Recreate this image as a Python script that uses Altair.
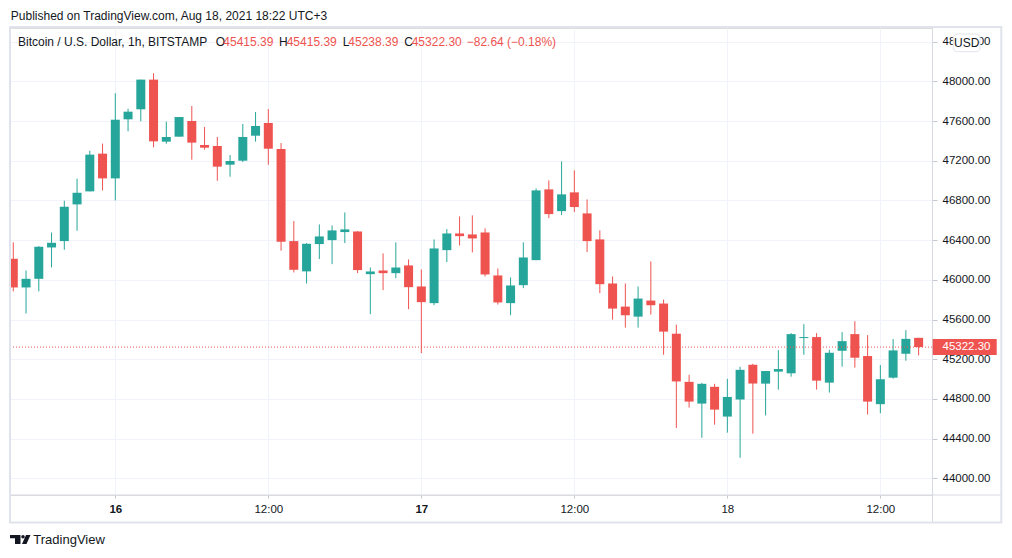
import altair as alt
import pandas as pd

# ---------------- data ----------------
START = "2021-08-15 16:00"   # first hourly candle (chart time, UTC+3)

opens = [46212, 45923, 46010, 46326, 46390, 46760, 46891, 47271, 47022, 47617,
         47718, 48017, 47392, 47442, 47600, 47358, 47348, 47160, 47200, 47452,
         47580, 47318, 46390, 46085, 46360, 46400, 46481, 46487, 46057, 46094,
         46067, 46145, 45933, 45765, 46299, 46467, 46457, 46477, 46044, 45765,
         45946, 46198, 46911, 46692, 46881, 46669, 46407, 45963, 45730, 45629,
         45791, 45761, 45457, 44972, 44753, 44922, 44622, 44794, 45144, 44954,
         45075, 45058, 45413, 45423, 44964, 45285, 45453, 45232, 44747, 45014,
         45255, 45415.39]
highs = [46377, 46094, 46340, 46477, 46797, 47019, 47301, 47372, 47879, 47724,
         48017, 48081, 47593, 47640, 47751, 47540, 47439, 47257, 47570, 47691,
         47721, 47378, 46592, 46370, 46558, 46548, 46679, 46490, 46124, 46266,
         46377, 46205, 46104, 46407, 46511, 46639, 46649, 46518, 46114, 46024,
         46377, 46921, 47002, 47193, 47103, 46810, 46498, 46034, 45963, 45933,
         46185, 45801, 45548, 45043, 44962, 44952, 45002, 45124, 45154, 45081,
         45292, 45463, 45553, 45463, 45295, 45473, 45583, 45443, 45141, 45403,
         45493, 45415.39]
lows = [45883, 45661, 45883, 46125, 46303, 46494, 46891, 46901, 46800, 47496,
        47597, 47335, 47371, 47442, 47210, 47311, 46998, 47039, 47187, 47392,
        47160, 46293, 46074, 45963, 46209, 46158, 46370, 46067, 45654, 45896,
        46017, 45704, 45261, 45745, 46178, 46346, 46276, 46034, 45751, 45644,
        45916, 46198, 46622, 46652, 46682, 46279, 45866, 45599, 45518, 45518,
        45650, 45245, 44507, 44713, 44409, 44541, 44460, 44207, 44450, 44633,
        44894, 45024, 45245, 44894, 44864, 45125, 45115, 44643, 44656, 45004,
        45185, 45238.39]
closes = [45923, 46010, 46333, 46373, 46736, 46877, 47261, 47022, 47613, 47694,
          48017, 47395, 47439, 47640, 47382, 47331, 47140, 47197, 47439, 47550,
          47321, 46383, 46101, 46363, 46437, 46498, 46508, 46098, 46084, 46067,
          46124, 45926, 45775, 46316, 46467, 46440, 46417, 46054, 45772, 45943,
          46225, 46901, 46662, 46861, 46733, 46390, 45956, 45710, 45643, 45811,
          45744, 45478, 44976, 44773, 44952, 44692, 44820, 45093, 44955, 45081,
          45101, 45453, 45423, 44984, 45265, 45382, 45215, 44773, 44998, 45289,
          45404.94, 45322.30]

price_ticks = list(range(44000, 48401, 400))
time_ticks = [(16, 0), (16, 12), (17, 0), (17, 12), (18, 0), (18, 12)]  # (day, hour)

published_text = "Published on TradingView.com, Aug 18, 2021 18:22 UTC+3"
symbol_text = "Bitcoin / U.S. Dollar, 1h, BITSTAMP"
brand_text = "TradingView"
currency_text = "USD"

# ---------------- styling ----------------
GREEN = "#26a69a"
RED = "#ef5350"
TEXT = "#131722"
GRID = "#f0f3fa"
FRAME = "#e0e3eb"
SEP = "#d6d9e0"
FONT = "Liberation Sans"

W, H = 922, 467

times = pd.date_range(START, periods=len(opens), freq="h")
df = pd.DataFrame({
    "t": times.strftime("%Y-%m-%dT%H:%M:%SZ"),
    "open": opens, "high": highs, "low": lows, "close": closes,
})

last = df.iloc[-1]
prev_close = df.iloc[-2]["close"]
chg = last["close"] - prev_close
pct = chg / prev_close * 100
chg_text = f"{chg:.2f} ({pct:.2f}%)".replace("-", "\u2212")

def dt(day, hour, minute=0, second=0):
    return alt.DateTime(year=2021, month=8, date=day, hours=hour,
                        minutes=minute, seconds=second, utc=True)

x_scale = alt.Scale(type="utc", domain=[dt(15, 15, 44, 30), dt(18, 16, 3)], padding=0)
y_scale = alt.Scale(domain=[43832, 48537], nice=False, zero=False, padding=0)

x_axis = alt.Axis(
    values=[dt(d, h) for d, h in time_ticks],
    labelExpr="utchours(datum.value) == 0 ? utcFormat(datum.value, '%-d') : utcFormat(datum.value, '%H:%M')",
    title=None, domain=False, grid=True, gridColor=GRID, gridWidth=1,
    tickColor="#c5c8d0", tickSize=3, labelPadding=5, labelFlush=False,
    labelFontSize=11.5, labelColor=TEXT, labelFont=FONT,
    labelFontWeight={"condition": {"test": "utchours(datum.value) == 0 && utcdate(datum.value) < 18",
                                   "value": "bold"}, "value": "normal"},
)
y_axis = alt.Axis(
    orient="right", values=price_ticks, format=".2f", title=None, domain=False,
    grid=True, gridColor=GRID, gridWidth=1, tickColor="#c5c8d0", tickSize=5,
    labelPadding=5, labelFontSize=11.5, labelColor=TEXT, labelFont=FONT,
)

X = alt.X("t:T", scale=x_scale, axis=x_axis)
up = "datum.close >= datum.open"
color = alt.condition(up, alt.value(GREEN), alt.value(RED))

base = alt.Chart(df)
wicks = base.mark_rule(strokeWidth=1, clip=True).encode(
    x=X,
    y=alt.Y("low:Q", scale=y_scale, axis=y_axis),
    y2="high:Q",
    color=color,
)
bodies = base.mark_bar(size=9, clip=True).encode(
    x=X,
    y=alt.Y("open:Q", scale=y_scale, axis=y_axis),
    y2="close:Q",
    color=color,
)

last_df = pd.DataFrame({"p": [last["close"]], "label": [f"{last['close']:.2f}"]})
price_line = alt.Chart(last_df).mark_rule(strokeDash=[1, 2], strokeWidth=1, color=RED).encode(
    y=alt.Y("p:Q", scale=y_scale, axis=y_axis),
)
price_box = alt.Chart(last_df).mark_point(
    shape="M-32,-8H32V8H-32Z", size=4, filled=True, color=RED, opacity=1, strokeWidth=0
).encode(
    x=alt.value(954.7),
    y=alt.Y("p:Q", scale=y_scale, axis=y_axis),
)
price_label = alt.Chart(last_df).mark_text(
    align="left", baseline="middle", font=FONT, fontSize=11.5, color="white"
).encode(
    x=alt.value(932.5),
    y=alt.Y("p:Q", scale=y_scale, axis=y_axis),
    text="label:N",
)

one = pd.DataFrame({"k": [0]})

def label(txt, x, y, color=TEXT, size=12, align="left", weight="normal"):
    return alt.Chart(one).mark_text(
        align=align, baseline="middle", font=FONT, fontSize=size,
        color=color, fontWeight=weight
    ).encode(x=alt.value(x), y=alt.value(y), text=alt.value(txt))

def rule(x, x2, y, y2, color, width=1):
    return alt.Chart(one).mark_rule(color=color, strokeWidth=width).encode(
        x=alt.value(x), x2=alt.value(x2), y=alt.value(y), y2=alt.value(y2))

frame = alt.Chart(one).mark_rect(
    fill=None, filled=False, stroke=FRAME, strokeWidth=2
).encode(x=alt.value(0), x2=alt.value(991.3), y=alt.value(-1.1), y2=alt.value(494.5))

sep_v = rule(922.5, 922.5, -1, 494.5, SEP)
sep_h = rule(0, 991.3, 467, 467, SEP)

usd_box = alt.Chart(one).mark_rect(
    fill="white", stroke=FRAME, strokeWidth=1, cornerRadius=4
).encode(x=alt.value(943.3), x2=alt.value(970), y=alt.value(6), y2=alt.value(23.7))

legend = [
    label(symbol_text, 8, 14),
    label("O", 205.7, 14),
    label(f"{last['open']:.2f}", 213.3, 14, color=RED),
    label("H", 269, 14),
    label(f"{last['high']:.2f}", 276.7, 14, color=RED),
    label("L", 332.7, 14),
    label(f"{last['low']:.2f}", 338.3, 14, color=RED),
    label("C", 394.3, 14),
    label(f"{last['close']:.2f}", 401.7, 14, color=RED),
    label(chg_text, 456.7, 14, color=RED),
]

logo = alt.Chart(one).mark_point(
    shape=("M-10,-4.5H0.5V4.5H-5V-1.2H-10Z "
           "M1.3,-2.8A1.7,1.7 0 1,1 4.7,-2.8A1.7,1.7 0 1,1 1.3,-2.8Z "
           "M6,-4.5H10.5L6.5,4.5H2Z"),
    size=4, filled=True, color=TEXT, opacity=1, strokeWidth=0,
).encode(x=alt.value(10), y=alt.value(511.5))

chart = alt.layer(
    wicks, bodies, price_line, sep_v, sep_h, frame, price_box, price_label,
    usd_box, label(currency_text, 956.7, 14.8, size=12, align="center"),
    label(published_text, 0.8, -12.5, size=12),
    *legend,
    logo, label(brand_text, 23.3, 512, size=13),
).properties(
    width=W, height=H,
    autosize=alt.AutoSizeParams(type="none"),
    padding={"left": 2, "top": 20, "right": 72, "bottom": 54},
    background="white",
).configure_view(strokeWidth=0).configure(font=FONT)

chart.save("out.html", embed_options={"renderer": "svg", "actions": False})
